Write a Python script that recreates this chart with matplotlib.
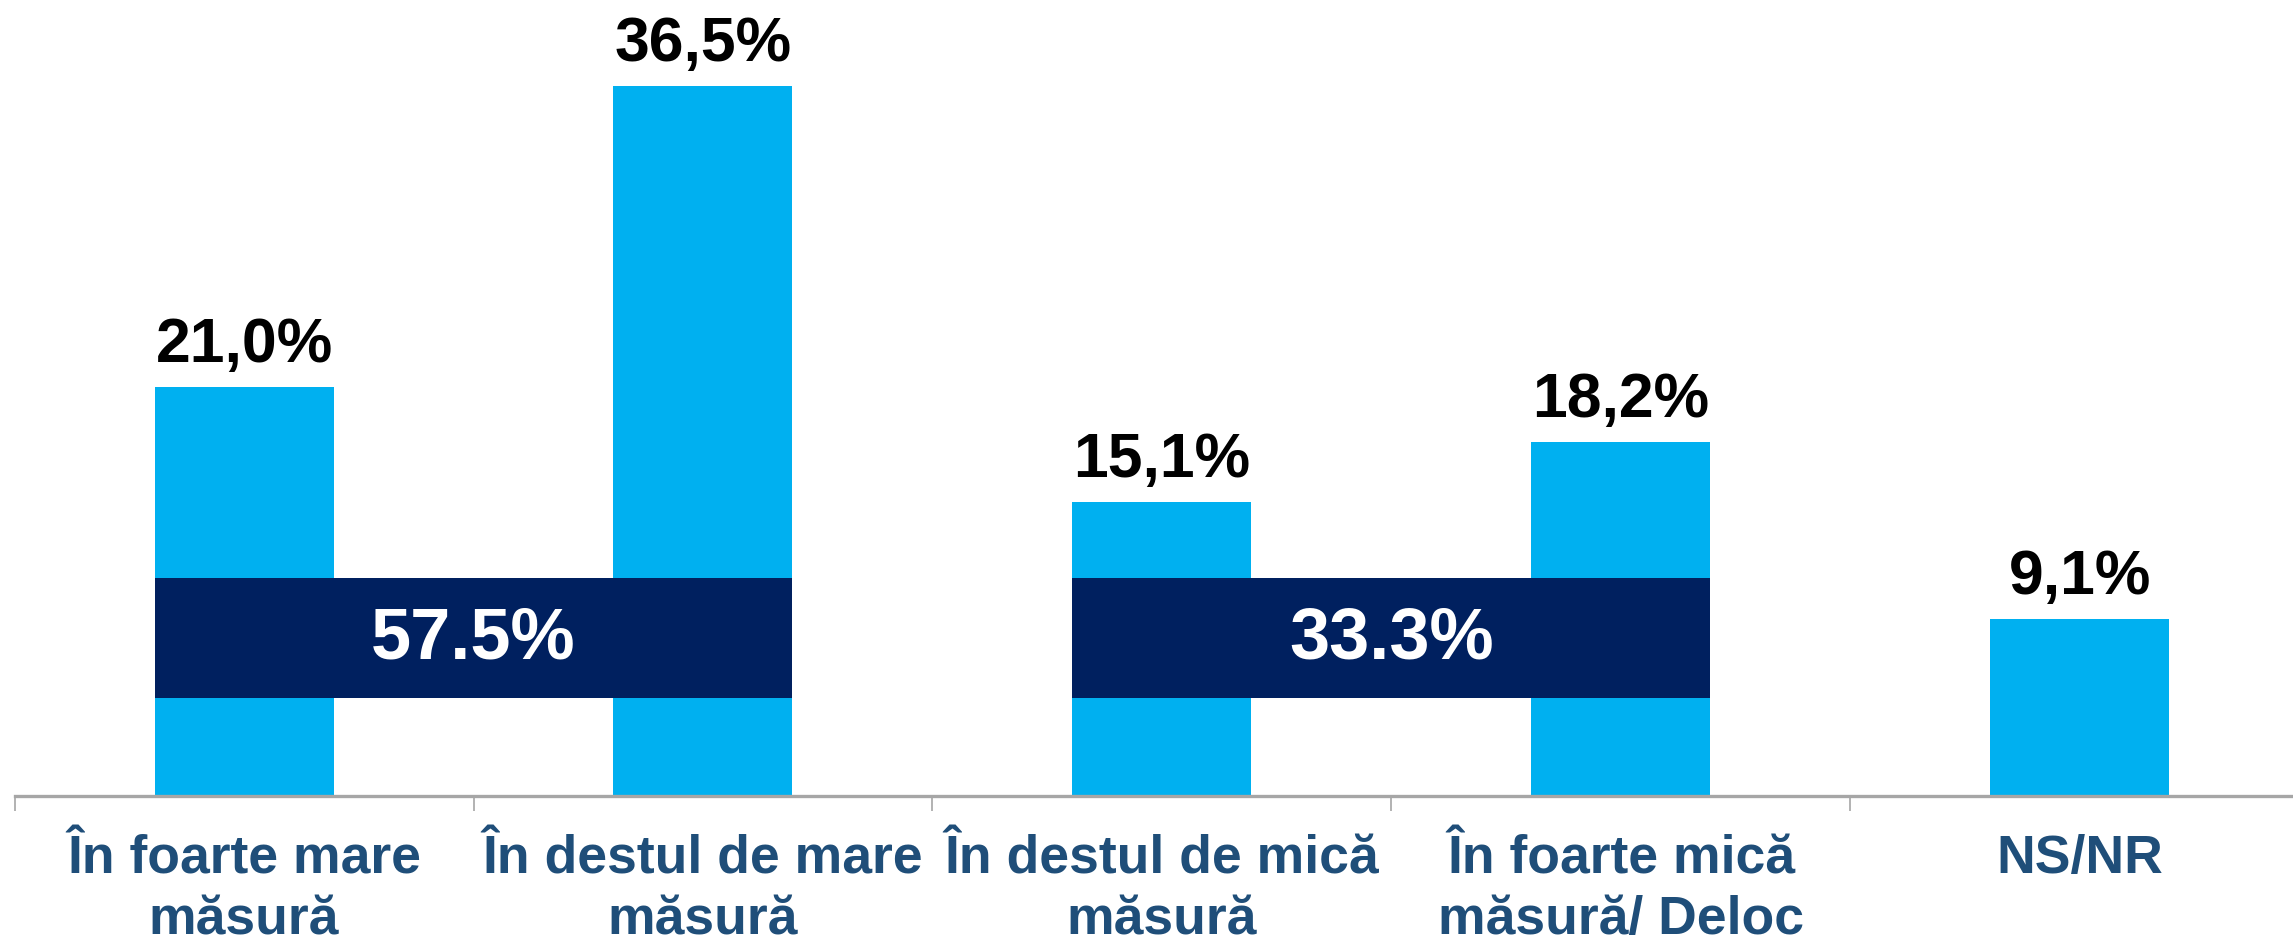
import matplotlib
matplotlib.use("Agg")
import matplotlib.pyplot as plt

categories = ["În foarte mare\nmăsură", "În destul de mare\nmăsură", "În destul de mică\nmăsură",
              "În foarte mică\nmăsură/ Deloc", "NS/NR"]
values = [21.0, 36.5, 15.1, 18.2, 9.1]
value_labels = ["21,0%", "36,5%", "15,1%", "18,2%", "9,1%"]
group_members = [(0, 1), (2, 3)]
group_totals = ["57.5%", "33.3%"]

plt.rcParams['font.family'] = ['Liberation Sans', 'DejaVu Sans']

W, H, DPI = 2293, 942, 100
fig = plt.figure(figsize=(W / DPI, H / DPI), dpi=DPI)

axis_y_px = 795.6
left_px = 14.6
cat_px = 458.9
ax = fig.add_axes([left_px / W, 1 - axis_y_px / H, 5 * cat_px / W, axis_y_px / H])
ax.set_xlim(-0.5, 4.5)
ax.set_ylim(0, axis_y_px / 19.45)

bar_w = 0.39
bar_color = "#00B0F0"
box_color = "#00205F"
x = list(range(len(values)))
ax.bar(x, values, width=bar_w, color=bar_color, zorder=2)

for xi, v, lab in zip(x, values, value_labels):
    ax.annotate(lab, (xi, v), xytext=(0, 18), textcoords="offset points",
                ha="center", va="baseline", fontsize=45, fontweight="bold", color="black")

box_bottom, box_height = 5.04, 6.16
for (a, b), tot in zip(group_members, group_totals):
    cx = (a + b) / 2
    ax.bar(cx, box_height, bottom=box_bottom, width=(b - a) + bar_w, color=box_color, zorder=3)
    ax.text(cx, box_bottom + box_height / 2 - 0.1, tot, ha="center", va="center",
            fontsize=52, fontweight="bold", color="white", zorder=4)

for s in ["top", "right", "left"]:
    ax.spines[s].set_visible(False)
ax.spines["bottom"].set_color("#A6A6A6")
ax.spines["bottom"].set_linewidth(2.4)
ax.set_yticks([])
ax.set_xticks([i - 0.5 for i in range(6)])
ax.set_xticklabels([])
ax.tick_params(axis="x", length=11, width=1.2, color="#A6A6A6", direction="out")

for xi, c in zip(x, categories):
    ax.text(xi, -2.0, c, ha="center", va="top", fontsize=38.5, fontweight="bold",
            color="#1F4E79", linespacing=1.28, transform=ax.transData, clip_on=False)

fig.savefig("out.png", dpi=DPI)
